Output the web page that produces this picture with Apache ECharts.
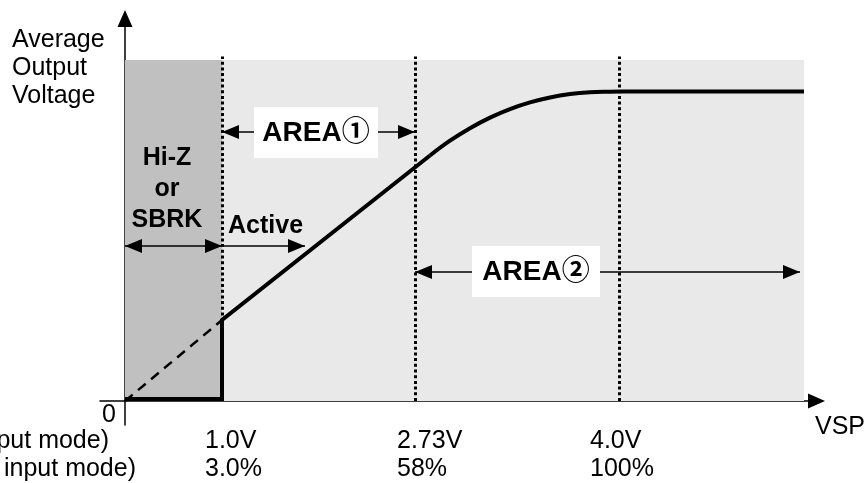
<!DOCTYPE html>
<html><head><meta charset="utf-8">
<script src="https://cdn.jsdelivr.net/npm/echarts@6/dist/echarts.min.js"></script>
<style>html,body{margin:0;padding:0;background:#fff}#c{width:864px;height:483px}</style>
</head><body><div id="c"></div>
<script>
// Schematic x positions: 0 = origin, 100 = right end of the shaded region.
// y is average output voltage in % of the shaded height.
const markPos = [14.29, 42.71, 72.75];          // 1.0V / 2.73V / 4.0V boundaries
const vspLabels = ['1.0V', '2.73V', '4.0V'];
const dutyLabels = ['3.0%', '58%', '100%'];
const modeLabels = ['VSP (Voltage input mode)', 'VSP (PWM duty input mode)'];
const stepX = [0, 14.29, 14.29, 44.92];
const stepY = [0.6, 0.6, 23.75, 72.0];
const curveX = [44.92, 47.86, 50.81, 53.76, 56.70, 59.65, 62.59, 65.54, 68.48, 71.43, 72.90, 100];
const curveY = [72.0, 76.33, 80.0, 83.1, 85.6, 87.55, 89.0, 90.0, 90.55, 90.72, 90.76, 90.76];
const dashX = [0, 14.29];
const dashY = [0, 23.75];
const shadeMax = [100, 100];
const arrowHiZ = [0, 14.29, 45.45];
const arrowActive = [14.29, 26.51, 45.45];
const arrowArea1 = [14.29, 42.71, 78.89];
const arrowArea2 = [42.71, 99.41, 37.83];

const FONT = "'Liberation Sans', Arial, 'Noto Sans CJK JP', sans-serif";
const zip = (xs, ys) => xs.map((x, i) => [x, ys[i]]);
const tri = { symbol: 'triangle', symbolSize: [14, 17], symbolOffset: [0, '50%'] };
function arrowLine(a, both) {
  return [
    Object.assign({ coord: [a[0], a[2]] }, both ? tri : { symbol: 'none' }),
    Object.assign({ coord: [a[1], a[2]] }, tri)
  ];
}

const chart = echarts.init(document.getElementById('c'), null, { renderer: 'canvas' });
const txt = (id, text, x, y, opt) => ({
  type: 'text', id, z: 110, x, y,
  style: Object.assign({ text, fill: '#000', fontFamily: FONT, fontSize: 25, align: 'left', verticalAlign: 'middle' }, opt || {})
});

chart.setOption({
  animation: false,
  backgroundColor: '#fff',
  grid: { left: 100, right: 47.5, top: 18.5, bottom: 58, containLabel: false },
  xAxis: {
    type: 'value', min: -3.68, max: 101.84,
    axisLine: { show: true, onZero: true, symbol: ['none', 'triangle'], symbolSize: [15, 17], lineStyle: { color: '#000', width: 1.5 } },
    axisTick: { show: false }, axisLabel: { show: false }, splitLine: { show: false }
  },
  yAxis: {
    type: 'value', min: -7.04, max: 112.17,
    axisLine: { show: true, onZero: true, symbol: ['none', 'triangle'], symbolSize: [15, 17], lineStyle: { color: '#000', width: 1.5 } },
    axisTick: { show: false }, axisLabel: { show: false }, splitLine: { show: false }
  },
  series: [
    {
      type: 'line', z: 1, data: zip(dashX, dashY), symbol: 'none',
      lineStyle: { color: '#000', width: 2.5, type: [10, 7] },
      markArea: {
        silent: true,
        data: [
          [{ coord: [0, 0], itemStyle: { color: '#e9e9e9' } }, { coord: shadeMax }],
          [{ coord: [0, 0], itemStyle: { color: '#c0c0c0' } }, { coord: [markPos[0], shadeMax[1]] }]
        ]
      },
      markLine: {
        silent: true, symbol: 'none', label: { show: false },
        lineStyle: { color: '#000', width: 3, type: [3, 2.7] },
        data: markPos.map(p => [{ coord: [p, 0] }, { coord: [p, 101] }])
      }
    },
    {
      type: 'line', z: 4, data: zip(stepX, stepY), symbol: 'none',
      lineStyle: { color: '#000', width: 4, cap: 'butt', join: 'miter' }
    },
    {
      type: 'line', z: 4, data: zip(curveX, curveY), symbol: 'none', smooth: 0.4,
      lineStyle: { color: '#000', width: 4, join: 'round' }
    },
    {
      type: 'line', z: 3, data: [], symbol: 'none',
      markLine: {
        silent: true, label: { show: false },
        lineStyle: { color: '#000', width: 1.5, type: 'solid' },
        data: [arrowLine(arrowHiZ, true), arrowLine(arrowActive, false), arrowLine(arrowArea1, true), arrowLine(arrowArea2, true)]
      }
    }
  ],
  graphic: [
    txt('ytitle', 'Average\nOutput\nVoltage', 12, 68, { lineHeight: 28 }),
    txt('vsp', 'VSP', 815, 427),
    txt('zero', '0', 116, 415, { align: 'right' }),
    txt('mode1', modeLabels[0], 109, 441, { align: 'right' }),
    txt('mode2', modeLabels[1], 136, 469, { align: 'right' }),
    txt('hiz', 'Hi-Z\nor\nSBRK', 167, 189, { align: 'center', fontWeight: 'bold', lineHeight: 31 }),
    txt('active', 'Active', 228, 226, { fontWeight: 'bold' }),
    { type: 'rect', id: 'box1', z: 100, shape: { x: 254, y: 107, width: 124, height: 51 }, style: { fill: '#fff' } },
    { type: 'rect', id: 'box2', z: 100, shape: { x: 472, y: 246, width: 128, height: 51 }, style: { fill: '#fff' } },
    txt('area1', 'AREA\u2460', 316, 133, { align: 'center', fontWeight: 'bold', fontSize: 28 }),
    txt('area2', 'AREA\u2461', 536, 272, { align: 'center', fontWeight: 'bold', fontSize: 28 })
  ]
});

// tick labels under the boundary lines, placed from the axis scale
const offs = [17, 18, 29];
const tickGraphics = markPos.map((p, i) => {
  const px = chart.convertToPixel({ xAxisIndex: 0, yAxisIndex: 0 }, [p, 0]);
  return txt('tick' + i, vspLabels[i] + '\n' + dutyLabels[i], px[0] - offs[i], 455, { lineHeight: 28 });
});
chart.setOption({ graphic: tickGraphics });
</script></body></html>
